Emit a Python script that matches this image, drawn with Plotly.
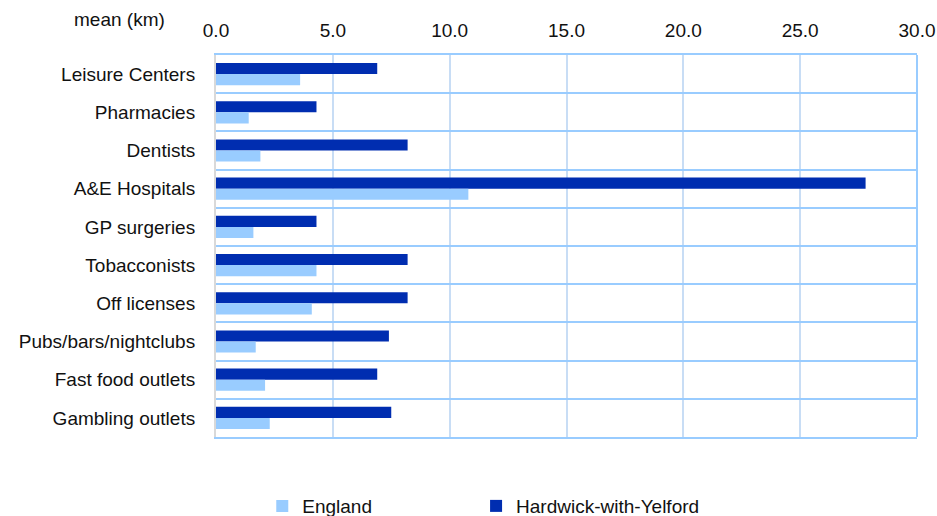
import plotly.graph_objects as go

categories = ["Leisure Centers", "Pharmacies", "Dentists", "A&E Hospitals", "GP surgeries",
              "Tobacconists", "Off licenses", "Pubs/bars/nightclubs", "Fast food outlets",
              "Gambling outlets"]
hardwick = [6.9, 4.3, 8.2, 27.8, 4.3, 8.2, 8.2, 7.4, 6.9, 7.5]
england = [3.6, 1.4, 1.9, 10.8, 1.6, 4.3, 4.1, 1.7, 2.1, 2.3]
x_ticks = [0, 5, 10, 15, 20, 25, 30]

font = "Liberation Sans, Arial, sans-serif"
fs = 19

fig = go.Figure()
fig.add_trace(go.Bar(y=categories, x=hardwick, orientation="h", name="Hardwick-with-Yelford",
                     marker=dict(color="#002db0", line=dict(width=0)), legend="legend2"))
fig.add_trace(go.Bar(y=categories, x=england, orientation="h", name="England",
                     marker=dict(color="#99ccff", line=dict(width=0)), legend="legend"))

legend_common = dict(orientation="h", xanchor="left", y=-0.131, yanchor="top",
                     itemwidth=30, font=dict(size=fs), bgcolor="rgba(0,0,0,0)")

fig.update_layout(
    width=937, height=540,
    margin=dict(l=216, r=20, t=55, b=103),
    paper_bgcolor="white", plot_bgcolor="white",
    barmode="group", bargap=0.42, bargroupgap=0,
    font=dict(family=font, size=fs, color="#111111"),
    xaxis=dict(side="top", range=[0, 30], tickvals=x_ticks,
               ticktext=[f"{v:.1f}" for v in x_ticks],
               showgrid=True, gridcolor="#c8ddf5", gridwidth=2,
               zeroline=False, showline=True, mirror=True,
               linecolor="#99ccff", linewidth=2,
               ticks="", ticklabelstandoff=8, automargin=False),
    yaxis=dict(type="category", autorange="reversed", tickson="boundaries",
               showgrid=True, gridcolor="#99ccff", gridwidth=2,
               showline=True, linecolor="#d9d9d9", linewidth=2,
               ticks="", ticklabelstandoff=15, automargin=False),
    legend=dict(x=0.066, **legend_common),
    legend2=dict(x=0.371, **legend_common),
    showlegend=True,
    shapes=[dict(type="line", xref="paper", yref="paper", x0=1, x1=1, y0=0, y1=1,
                 line=dict(color="#99ccff", width=2))],
    annotations=[dict(text="mean (km)", xref="paper", yref="paper", x=-0.137, y=1.092,
                      xanchor="center", yanchor="middle", showarrow=False,
                      font=dict(size=fs, family=font))],
)

fig.write_html("out.html", config={"displayModeBar": False},
               post_script="document.body.style.margin='0';document.body.style.overflow='hidden';")
